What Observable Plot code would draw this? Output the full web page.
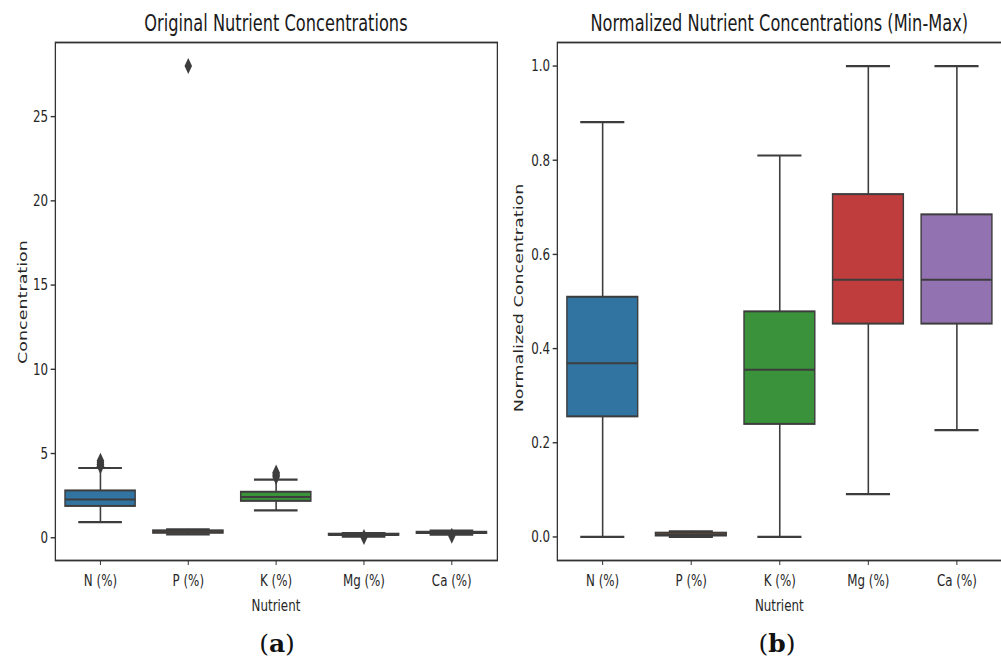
<!DOCTYPE html>
<html>
<head>
<meta charset="utf-8">
<script src="https://cdn.jsdelivr.net/npm/d3@7"></script>
<script src="https://cdn.jsdelivr.net/npm/@observablehq/plot@0.6"></script>
<style>
  html, body { margin: 0; padding: 0; background: #fff; width: 1001px; height: 666px; overflow: hidden; }
  #wrap { position: absolute; left: 0; top: 0; width: 1400px; height: 666px; transform: scaleX(0.72); transform-origin: 0 0; font-family: "DejaVu Sans", sans-serif; color: #262626; }
  .abs { position: absolute; white-space: nowrap; }
  .title { font-size: 22.5px; line-height: 22px; color: #1a1a1a; transform: translateX(-50%); }
  .xlab { font-size: 16.5px; line-height: 16px; transform: translateX(-50%); }
  .ylab { font-size: 17.5px; line-height: 18px; transform: translate(-50%, -50%) rotate(-90deg); }
  .cap { font-family: "DejaVu Serif", serif; font-size: 25px; line-height: 25px; color: #111; transform: translateX(-50%); }
</style>
</head>
<body>
<div id="wrap">
  <div id="p1" class="abs" style="left:0;top:0"></div>
  <div id="p2" class="abs" style="left:700px;top:0"></div>
  <div class="abs title" style="left:383.3px;top:12px">Original Nutrient Concentrations</div>
  <div class="abs title" style="left:1082.3px;top:12px">Normalized Nutrient Concentrations (Min-Max)</div>
  <div class="abs ylab" style="left:30.6px;top:302px">Concentration</div>
  <div class="abs ylab" style="left:720.8px;top:298px">Normalized Concentration</div>
  <div class="abs xlab" style="left:383.3px;top:598px">Nutrient</div>
  <div class="abs xlab" style="left:1082.3px;top:598px">Nutrient</div>
</div>
<div class="abs cap" style="left:277px;top:631px">(<b>a</b>)</div>
<div class="abs cap" style="left:777px;top:631px">(<b>b</b>)</div>
<script>
// ---------- data ----------
const nutrients = ["N (%)", "P (%)", "K (%)", "Mg (%)", "Ca (%)"];
const boxColors = ["#3274a1", "#e1812c", "#3a923a", "#c03d3e", "#9372b2"];

// Original concentrations (box statistics)
const origLo  = [0.93, 0.20, 1.62, 0.07, 0.19];
const origQ1  = [1.86, 0.27, 2.16, 0.149, 0.256];
const origMed = [2.27, 0.33, 2.42, 0.17, 0.284];
const origQ3  = [2.78, 0.41, 2.70, 0.21, 0.325];
const origHi  = [4.14, 0.50, 3.45, 0.27, 0.42];
const origOutlierNutrient = ["N (%)", "N (%)", "N (%)", "N (%)", "P (%)", "K (%)", "K (%)", "K (%)", "K (%)", "Mg (%)", "Ca (%)"];
const origOutlierValue    = [4.25, 4.35, 4.45, 4.57, 28.0, 3.60, 3.70, 3.78, 3.88, 0.05, 0.12];
const origTicks = [0, 5, 10, 15, 20, 25];

// Min-max normalized concentrations (box statistics, outliers hidden)
const normLo  = [0.0, 0.0, 0.0, 0.091, 0.227];
const normQ1  = [0.255, 0.002, 0.239, 0.452, 0.452];
const normMed = [0.369, 0.005, 0.355, 0.546, 0.546];
const normQ3  = [0.509, 0.008, 0.478, 0.727, 0.684];
const normHi  = [0.881, 0.012, 0.810, 1.0, 1.0];
const normTicks = [0, 0.2, 0.4, 0.6, 0.8, 1.0];

// ---------- drawing ----------
const edge = "#3d3d3d";
const thinDiamond = {
  draw(context, size) {
    const r = Math.sqrt(size / Math.PI);
    context.moveTo(0, -r);
    context.lineTo(0.65 * r, 0);
    context.lineTo(0, r);
    context.lineTo(-0.65 * r, 0);
    context.closePath();
  }
};

function panel({lo, q1, med, q3, hi, outN, outV, domain, ticks, fmt, width, ml, mr}) {
  const rows = nutrients.map((n, i) => ({n, lo: lo[i], q1: q1[i], med: med[i], q3: q3[i], hi: hi[i]}));
  const outs = (outN || []).map((n, i) => ({n, v: outV[i]}));
  const band = (width - ml - mr) / nutrients.length;
  const boxIn = band * 0.1;
  const capIn = band * 0.25;
  return Plot.plot({
    width, height: 620,
    marginLeft: ml, marginRight: mr, marginTop: 42, marginBottom: 60,
    style: {fontFamily: "'DejaVu Sans', sans-serif", fontSize: "16.5px", color: "#262626", background: "transparent", overflow: "visible"},
    x: {type: "band", domain: nutrients, padding: 0},
    y: {domain},
    color: {domain: nutrients, range: boxColors},
    marks: [
      Plot.ruleX(rows, {x: "n", y1: "lo", y2: "q1", stroke: edge, strokeWidth: 2.2}),
      Plot.ruleX(rows, {x: "n", y1: "q3", y2: "hi", stroke: edge, strokeWidth: 2.2}),
      Plot.barY(rows, {x: "n", y1: "q1", y2: "q3", fill: "n", stroke: edge, strokeWidth: 2, insetLeft: boxIn, insetRight: boxIn}),
      Plot.tickY(rows, {x: "n", y: "med", stroke: edge, strokeWidth: 2, insetLeft: boxIn, insetRight: boxIn}),
      Plot.tickY(rows, {x: "n", y: "lo", stroke: edge, strokeWidth: 2.2, insetLeft: capIn, insetRight: capIn}),
      Plot.tickY(rows, {x: "n", y: "hi", stroke: edge, strokeWidth: 2.2, insetLeft: capIn, insetRight: capIn}),
      Plot.dot(outs, {x: "n", y: "v", symbol: thinDiamond, r: 8, fill: edge, stroke: null}),
      Plot.frame({stroke: "#333", strokeWidth: 1.8}),
      Plot.axisX({tickSize: 5, tickPadding: 9, label: null, stroke: "#333", strokeWidth: 1.4}),
      Plot.axisY({ticks, tickFormat: fmt, tickSize: 6, tickPadding: 4, label: null, stroke: "#333", strokeWidth: 1.4})
    ]
  });
}

document.getElementById("p1").append(panel({
  lo: origLo, q1: origQ1, med: origMed, q3: origQ3, hi: origHi,
  outN: origOutlierNutrient, outV: origOutlierValue,
  domain: [-1.35, 29.4], ticks: origTicks, fmt: d3.format("d"),
  width: 700, ml: 76.4, mr: 9.7
}));
document.getElementById("p2").append(panel({
  lo: normLo, q1: normQ1, med: normMed, q3: normQ3, hi: normHi,
  outN: [], outV: [],
  domain: [-0.05, 1.05], ticks: normTicks, fmt: d3.format(".1f"),
  width: 700, ml: 73.6, mr: 9
}));
</script>
</body>
</html>
